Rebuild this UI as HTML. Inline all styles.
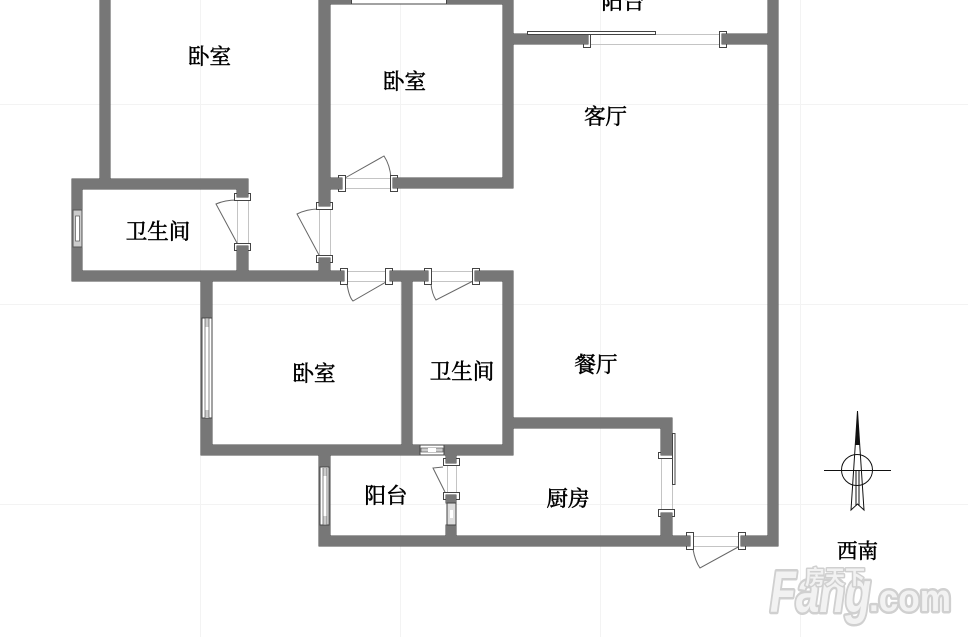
<!DOCTYPE html>
<html><head><meta charset="utf-8"><style>
html,body{margin:0;padding:0;background:#fff;width:968px;height:637px;overflow:hidden}
svg{display:block}
.f{fill:#fff;stroke:#444;stroke-width:1}
.g{stroke:#c4c4c4;stroke-width:1;fill:none}
.d{stroke:#666;stroke-width:1;fill:none}
.t{font-family:"Liberation Serif","Noto Serif CJK SC",serif;font-size:21.500px;fill:#000;text-anchor:middle;stroke:#000;stroke-width:.55}
.c{stroke:#111;stroke-width:1;fill:none}
</style></head><body>
<svg width="968" height="637" viewBox="0 0 968 637" xmlns="http://www.w3.org/2000/svg">
<path stroke="#f3f3f3" stroke-width="1" d="M0 104.500H968M0 304.500H968M0 504.500H968M200.500 0V637M400.500 0V637M600.500 0V637M800.500 0V637"/>
<!-- door guide lines -->
<path class="g" d="M237.500 200V243M248.500 200V243M319.500 209V255M330.500 209V255M345 178.500H391M345 188.500H391M347 271.500H386M347 281.500H386M431 271.500H473M431 281.500H473M590 34.500H720M590 44.500H720M661.500 457V510M672.500 457V510M693 536.500H739M693 546.500H739M447.500 465V492M456.500 465V492"/>
<!-- door leaves -->
<path class="d" d="M237 200Q225 200 216 204L237 243M319 209Q307 209 297 214L319 255M345 178L384 156Q390 165 391 178M347 284Q349 297 353 301L386 282M431 284Q432 294 436 300L473 281M693 549Q695 561 700 568L740 546M443 467L433 468L445 492"/>
<!-- door frames -->
<g class="f">
<rect x="234.500" y="193.500" width="16" height="7"/>
<rect x="234.500" y="243.500" width="16" height="7"/>
<rect x="316.500" y="202.500" width="16" height="7"/>
<rect x="316.500" y="255.500" width="16" height="7"/>
<rect x="338.500" y="175.500" width="7" height="16"/>
<rect x="390.500" y="175.500" width="7" height="16"/>
<rect x="340.500" y="268.500" width="7" height="16"/>
<rect x="385.500" y="268.500" width="7" height="16"/>
<rect x="424.500" y="268.500" width="7" height="16"/>
<rect x="472.500" y="268.500" width="7" height="16"/>
<rect x="583.500" y="34.500" width="7" height="13"/>
<rect x="719.500" y="31.500" width="7" height="16"/>
<rect x="658.500" y="452.500" width="14" height="6"/>
<rect x="658.500" y="509.500" width="16" height="7"/>
<rect x="686.500" y="532.500" width="7" height="17"/>
<rect x="738.500" y="532.500" width="7" height="17"/>
<rect x="443.500" y="458.500" width="16" height="7"/>
<rect x="443.500" y="492.500" width="16" height="7"/>
</g>
<!-- walls: dark outline pass, then fill pass -->
<path fill="#777" stroke="#444" stroke-width="1" d="M100 0h10v180h-10zM72 179h176v10H72zM72 179h10v102H72zM72 271h272v10H72zM237 179h11v18h-11zM237 246h11v25h-11zM201 281h11v174h-11zM201 445h312v10H201zM402 271h10v174h-10zM390 271h38v10h-38zM475 271h38v10h-38zM503 271h10v184h-10zM319 -2h11v208h-11zM319 178h23v11h-23zM319 258h11v13h-11zM319 -2h194v6H319zM503 -2h10v190h-10zM393 178h120v10H393zM513 34h75v10h-75zM722 34h56v10h-56zM768 -2h10v548h-10zM741 536h37v10h-37zM319 455h11v91h-11zM319 536h371v10H319zM513 418h159v10H513zM661 418h11v37h-11zM661 513h11v23h-11zM446 455h10v8h-10zM446 495h10v8h-10zM446 525h10v11h-10z"/>
<path fill="#777" d="M100 0h10v180h-10zM72 179h176v10H72zM72 179h10v102H72zM72 271h272v10H72zM237 179h11v18h-11zM237 246h11v25h-11zM201 281h11v174h-11zM201 445h312v10H201zM402 271h10v174h-10zM390 271h38v10h-38zM475 271h38v10h-38zM503 271h10v184h-10zM319 -2h11v208h-11zM319 178h23v11h-23zM319 258h11v13h-11zM319 -2h194v6H319zM503 -2h10v190h-10zM393 178h120v10H393zM513 34h75v10h-75zM722 34h56v10h-56zM768 -2h10v548h-10zM741 536h37v10h-37zM319 455h11v91h-11zM319 536h371v10H319zM513 418h159v10H513zM661 418h11v37h-11zM661 513h11v23h-11zM446 455h10v8h-10zM446 495h10v8h-10zM446 525h10v11h-10z"/>
<!-- windows -->
<rect x="351.500" y="-1" width="95" height="5" class="f"/>
<rect x="73" y="210" width="9" height="37" fill="#ccc" stroke="#555"/><rect x="75.500" y="216" width="4" height="25" fill="#fff" stroke="#555" stroke-width=".7"/>
<rect x="202" y="318" width="10" height="100" fill="#fff" stroke="#444"/><rect x="205" y="319" width="4" height="8" fill="#ccc"/><rect x="205" y="410" width="4" height="8" fill="#ccc"/><path d="M205 318V418M209 318V418" stroke="#555" stroke-width=".7"/>
<rect x="320" y="467" width="9" height="58" fill="#fff" stroke="#444"/><rect x="323" y="468" width="4" height="8" fill="#ccc"/><rect x="323" y="516" width="4" height="8" fill="#ccc"/><path d="M323 468V525M327 468V525" stroke="#555" stroke-width=".7"/>
<rect x="420" y="445" width="24" height="10" fill="#fff" stroke="#444"/><rect x="421" y="448" width="22" height="4" fill="#ccc" stroke="#555" stroke-width=".7"/><rect x="428" y="448" width="8" height="4" fill="#fff"/>
<rect x="447" y="503" width="9" height="22" fill="#ddd" stroke="#444"/><rect x="450" y="510" width="3" height="8" fill="#fff"/>
<rect x="527.500" y="31.500" width="128" height="3" class="f"/>
<rect x="672.500" y="433.500" width="2.500" height="51" class="f"/>
<!-- labels -->
<text class="t" x="209.500" y="64">卧室</text>
<text class="t" x="404.500" y="89">卧室</text>
<text class="t" x="623" y="9">阳台</text>
<text class="t" x="605.500" y="124">客厅</text>
<text class="t" x="158" y="239">卫生间</text>
<text class="t" x="314" y="381">卧室</text>
<text class="t" x="462" y="379">卫生间</text>
<text class="t" x="596" y="372">餐厅</text>
<text class="t" x="386" y="503">阳台</text>
<text class="t" x="568" y="506">厨房</text>
<text class="t" x="857.500" y="558" style="font-size:20.500px">西南</text>
<!-- compass -->
<circle class="c" cx="857" cy="470" r="15.500"/>
<path class="c" d="M824 470.500H891M857.500 411L851 510L857.500 504L864 510ZM856 470V506M859 470V506"/>
<path d="M857.500 411L855.500 445H859.500Z" fill="#111"/>
<!-- watermark -->
<g style="font-family:'Liberation Sans','Noto Sans CJK SC',sans-serif" fill="#f2f2f2" stroke="#d0d0d0" paint-order="stroke" stroke-linejoin="round">
<text x="770" y="612" font-size="58" font-weight="700" font-style="italic" textLength="101" lengthAdjust="spacingAndGlyphs" stroke-width="5">Fang</text>
<text x="869" y="611" font-size="38" font-weight="700" textLength="82" lengthAdjust="spacingAndGlyphs" stroke-width="5">.com</text>
<text x="805" y="584" font-size="20" font-weight="700" stroke-width="3">房天下</text>
</g>
</svg>
</body></html>
